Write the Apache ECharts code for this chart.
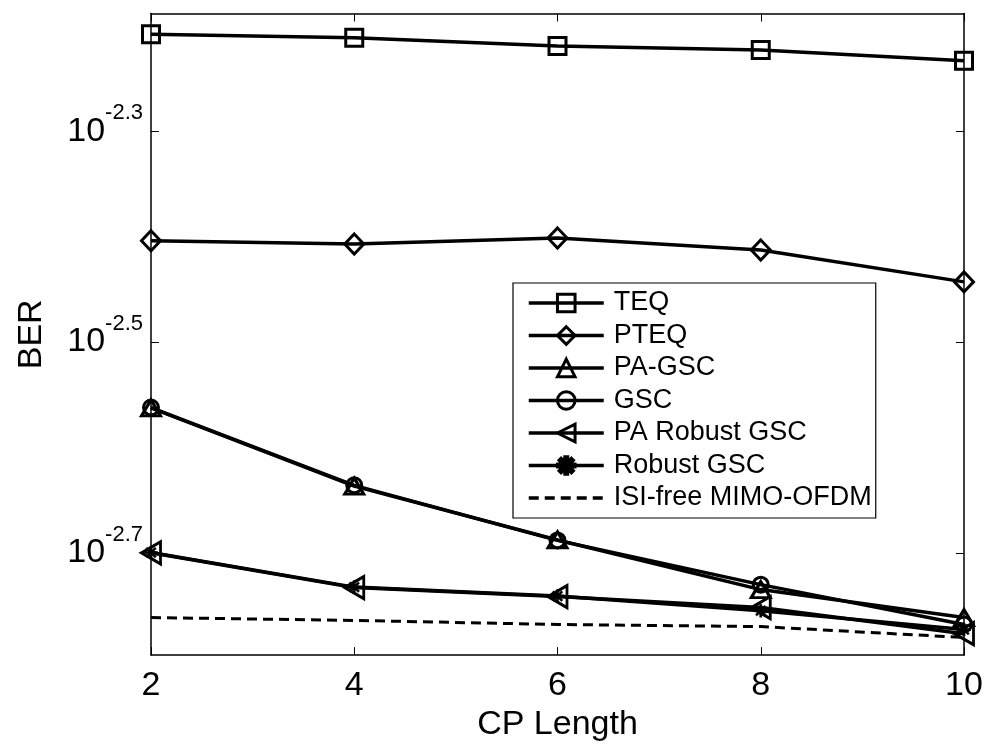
<!DOCTYPE html>
<html>
<head>
<meta charset="utf-8">
<script src="https://cdn.jsdelivr.net/npm/echarts@6/dist/echarts.min.js"></script>
<style>html,body{margin:0;padding:0;background:#fff;}#c{width:988px;height:747px;}</style>
</head>
<body>
<div id="c"></div>
<script>
const cpLength = [2, 4, 6, 8, 10];
const teq        = [0.006196, 0.006149, 0.006039, 0.005986, 0.005845];
const pteq       = [0.003945, 0.003917, 0.003969, 0.003866, 0.003606];
const paGsc      = [0.002738, 0.002308, 0.002052, 0.001841, 0.001732];
const gsc        = [0.002740, 0.002312, 0.002050, 0.001861, 0.001706];
const paRobust   = [0.001995, 0.001849, 0.001813, 0.001770, 0.001672];
const robustGsc  = [0.001996, 0.001851, 0.001815, 0.001758, 0.001687];
const isiFree    = [0.001732, 0.001721, 0.001706, 0.001698, 0.001658];
const yTickExponents = [-2.7, -2.5, -2.3];
const xTicks = [2, 4, 6, 8, 10];

const FONT = 'Liberation Sans, Arial, Helvetica, sans-serif';
const yTickValues = yTickExponents.map(e => Math.pow(10, e));

function pairs(ys) { return cpLength.map((x, i) => [x, ys[i]]); }

const asterisk = 'path://M-1,-6L1,-6L1,6L-1,6Z M-6,-1L6,-1L6,1L-6,1Z M-4.95,-3.54L-3.54,-4.95L4.95,3.54L3.54,4.95Z M3.54,-4.95L4.95,-3.54L-3.54,4.95L-4.95,3.54Z';

function mk(name, ys, symbol, size, extra) {
  return Object.assign({
    name: name,
    type: 'line',
    data: pairs(ys),
    symbol: symbol,
    symbolSize: size,
    showSymbol: true,
    lineStyle: { color: '#000', width: 3.5 },
    itemStyle: { color: 'rgba(255,255,255,0)', borderColor: '#000', borderWidth: 3 },
    emphasis: { disabled: true },
    z: 3
  }, extra || {});
}

const series = [
  mk('TEQ', teq, 'rect', 17),
  mk('PTEQ', pteq, 'diamond', [19, 20]),
  mk('PA-GSC', paGsc, 'triangle', [19, 16]),
  mk('GSC', gsc, 'circle', 15),
  mk('PA Robust GSC', paRobust, 'triangle', [22, 19], { symbolRotate: 90 }),
  mk('Robust GSC', robustGsc, asterisk, 13, { itemStyle: { color: '#000', borderColor: '#000', borderWidth: 0.5 } }),
  mk('ISI-free MIMO-OFDM', isiFree, 'none', 1, { showSymbol: false, lineStyle: { color: '#000', width: 3, type: [10, 6] } })
];

const legendData = series.map(s => {
  if (s.name === 'ISI-free MIMO-OFDM') {
    return { name: s.name, itemStyle: { color: 'rgba(0,0,0,0)', borderColor: 'rgba(0,0,0,0)', borderWidth: 0 } };
  }
  return { name: s.name };
});

const chart = echarts.init(document.getElementById('c'), null, { renderer: 'canvas' });
chart.setOption({
  animation: false,
  backgroundColor: '#fff',
  textStyle: { fontFamily: FONT, color: '#000' },
  grid: { left: 151, right: 24, top: 13.5, bottom: 89, containLabel: false },
  legend: {
    left: 513, top: 283,
    orient: 'vertical',
    itemWidth: 75, itemHeight: 22, itemGap: 5.5,
    padding: [6.5, 4, 6.5, 14],
    borderColor: '#000', borderWidth: 1.2,
    backgroundColor: '#fff',
    lineStyle: { width: 3.5, color: '#000' },
    itemStyle: { borderWidth: 3 },
    textStyle: { fontFamily: FONT, fontSize: 27, color: '#000', padding: [0, 0, 0, 5] },
    selectedMode: false,
    data: legendData
  },
  xAxis: [{
    type: 'value', min: 2, max: 10, interval: 2,
    name: 'CP Length', nameLocation: 'middle', nameGap: 43,
    nameTextStyle: { fontFamily: FONT, fontSize: 34, color: '#000' },
    axisLine: { show: true, onZero: false, lineStyle: { color: '#000', width: 1.5 } },
    axisTick: { show: true, inside: true, length: 8, lineStyle: { color: '#000', width: 1 } },
    axisLabel: { fontFamily: FONT, fontSize: 34, color: '#000', margin: 14 },
    splitLine: { show: false }
  }, {
    type: 'value', min: 2, max: 10, interval: 2, position: 'top',
    axisLine: { show: true, onZero: false, lineStyle: { color: '#000', width: 1.5 } },
    axisTick: { show: true, inside: true, length: 8, lineStyle: { color: '#000', width: 1 } },
    axisLabel: { show: false },
    splitLine: { show: false }
  }],
  yAxis: [{
    type: 'log', logBase: 10,
    min: Math.pow(10, -2.7971), max: Math.pow(10, -2.1883),
    name: 'BER', nameLocation: 'middle', nameGap: 102,
    nameTextStyle: { fontFamily: FONT, fontSize: 34, color: '#000' },
    axisLine: { show: true, onZero: false, lineStyle: { color: '#000', width: 1.5 } },
    axisTick: { show: true, inside: true, length: 8, customValues: yTickValues, lineStyle: { color: '#000', width: 1 } },
    axisLabel: {
      customValues: yTickValues,
      margin: 8,
      formatter: function (v) {
        const e = (Math.round(Math.log10(v) * 10) / 10).toFixed(1);
        return '{b|10}{s|' + e + '}';
      },
      rich: {
        b: { fontFamily: FONT, fontSize: 34, color: '#000', lineHeight: 34 },
        s: { fontFamily: FONT, fontSize: 22, color: '#000', lineHeight: 20, padding: [0, 0, 36, 0] }
      }
    },
    splitLine: { show: false },
    minorTick: { show: false }
  }, {
    type: 'log', logBase: 10, position: 'right',
    min: Math.pow(10, -2.7971), max: Math.pow(10, -2.1883),
    axisLine: { show: true, onZero: false, lineStyle: { color: '#000', width: 1.5 } },
    axisTick: { show: true, inside: true, length: 8, customValues: yTickValues, lineStyle: { color: '#000', width: 1 } },
    axisLabel: { show: false, customValues: yTickValues },
    splitLine: { show: false }
  }],
  series: series
});
</script>
</body>
</html>
